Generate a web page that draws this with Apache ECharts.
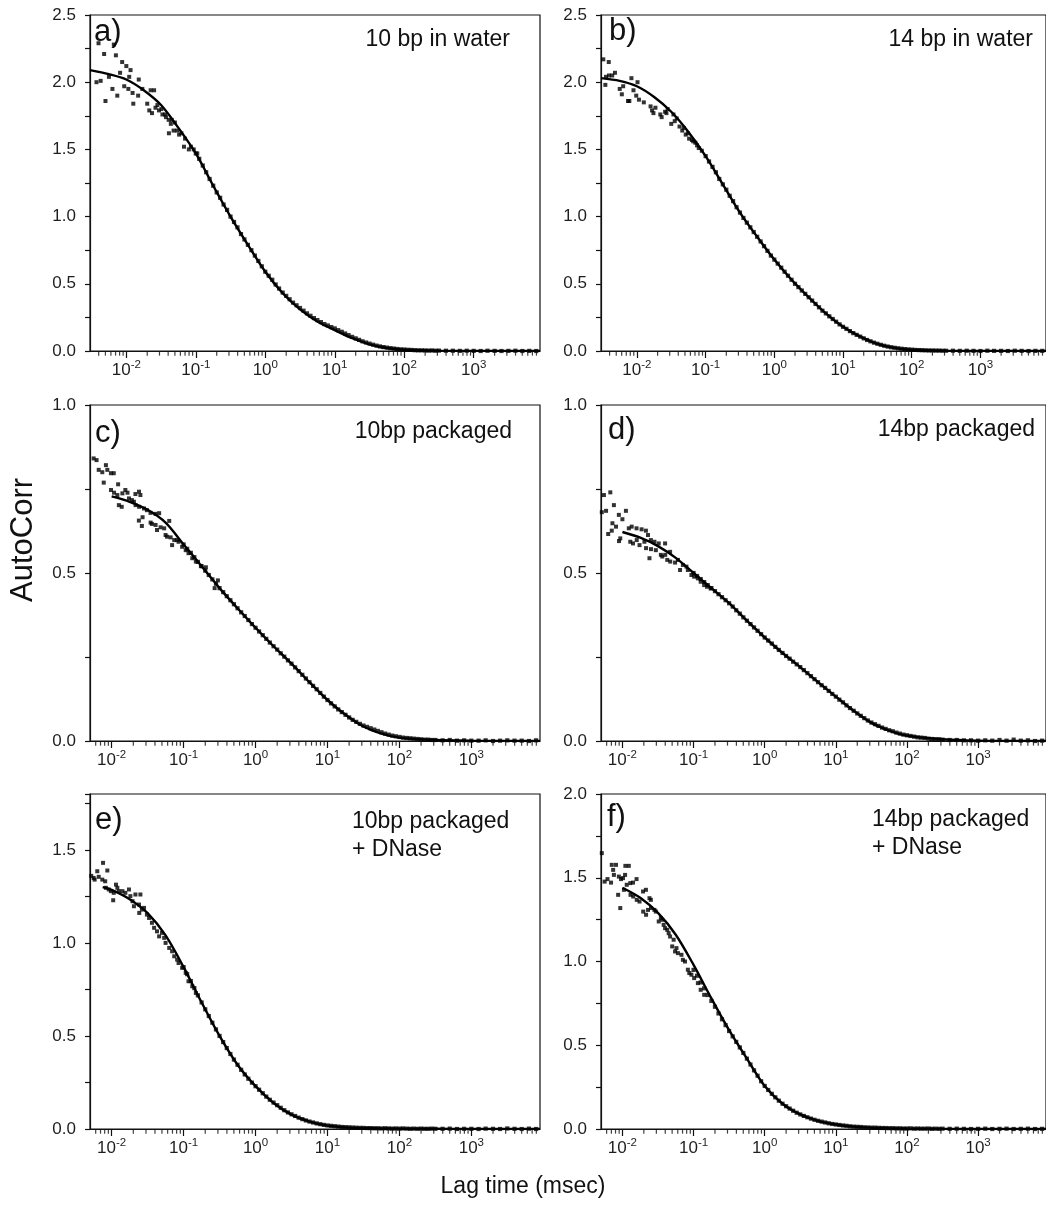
<!DOCTYPE html>
<html><head><meta charset="utf-8">
<script src="https://cdn.jsdelivr.net/npm/echarts@6/dist/echarts.min.js"></script>
<style>html,body{margin:0;padding:0;background:#fff}#c{width:1046px;height:1210px}</style>
</head><body><div id="c"></div>
<script>
// ---------------- DATA ----------------
// shared lag times (msec) of the dense part of every correlation curve
const lagT = [0.1, 0.112, 0.126, 0.141, 0.158, 0.178, 0.2, 0.224, 0.251, 0.282, 0.316, 0.355, 0.398, 0.447, 0.501, 0.562, 0.631, 0.708, 0.794, 0.891,
  1, 1.12, 1.26, 1.41, 1.58, 1.78, 2, 2.24, 2.51, 2.82, 3.16, 3.55, 3.98, 4.47, 5.01, 5.62, 6.31, 7.08, 7.94, 8.91,
  10, 11.2, 12.6, 14.1, 15.8, 17.8, 20, 22.4, 25.1, 28.2, 31.6, 35.5, 39.8, 44.7, 50.1, 56.2, 63.1, 70.8, 79.4, 89.1,
  100, 112, 126, 141, 158, 178, 200, 224, 251, 282, 316, 398, 501, 631, 794, 1000, 1260, 1580, 2000, 2510, 3160, 3980, 5010, 6310, 7940];

const denseA = [1.47, 1.43, 1.38, 1.33, 1.28, 1.23, 1.18, 1.14, 1.09, 1.05,
  1.00, 0.96, 0.92, 0.87, 0.83, 0.79, 0.75, 0.71, 0.67, 0.63,
  0.59, 0.56, 0.53, 0.495, 0.465, 0.435, 0.41, 0.385, 0.36, 0.34,
  0.32, 0.30, 0.28, 0.262, 0.245, 0.23, 0.215, 0.20, 0.19, 0.178,
  0.168, 0.155, 0.143, 0.13, 0.118, 0.105, 0.094, 0.083, 0.072, 0.063,
  0.055, 0.047, 0.04, 0.034, 0.029, 0.025, 0.021, 0.018, 0.015, 0.012,
  0.011, 0.009, 0.008, 0.006, 0.005, 0.005, 0.004, 0.003, 0.004, 0.002,
  0.003, 0.002, 0.002, 0.001, 0.002, 0.001, 0.000, 0.002, 0.001, 0.000, 0.001, 0.002, 0.000, 0.001, 0.000];
const denseB = [1.45, 1.41, 1.37, 1.33, 1.28, 1.24, 1.20, 1.155, 1.115, 1.07,
  1.03, 0.99, 0.955, 0.92, 0.885, 0.85, 0.815, 0.78, 0.745, 0.71,
  0.68, 0.65, 0.62, 0.59, 0.56, 0.53, 0.50, 0.475, 0.45, 0.425,
  0.40, 0.375, 0.35, 0.325, 0.30, 0.28, 0.258, 0.238, 0.218, 0.198,
  0.18, 0.165, 0.148, 0.133, 0.12, 0.107, 0.094, 0.082, 0.072, 0.062,
  0.054, 0.046, 0.039, 0.033, 0.028, 0.024, 0.02, 0.017, 0.014, 0.012,
  0.01, 0.008, 0.007, 0.006, 0.005, 0.004, 0.004, 0.003, 0.003, 0.002,
  0.002, 0.002, 0.001, 0.002, 0.001, 0.000, 0.002, 0.001, 0.001, 0.000, 0.002, 0.001, 0.000, 0.001, 0.001];
const denseC = [0.585, 0.572, 0.56, 0.547, 0.533, 0.52, 0.507, 0.494, 0.481, 0.468,
  0.455, 0.443, 0.431, 0.419, 0.407, 0.395, 0.383, 0.372, 0.36, 0.348,
  0.337, 0.326, 0.315, 0.304, 0.293, 0.282, 0.272, 0.261, 0.251, 0.24,
  0.23, 0.219, 0.208, 0.197, 0.186, 0.175, 0.164, 0.154, 0.143, 0.132,
  0.122, 0.112, 0.103, 0.094, 0.086, 0.078, 0.07, 0.063, 0.057, 0.051,
  0.046, 0.042, 0.038, 0.034, 0.03, 0.026, 0.022, 0.019, 0.016, 0.014,
  0.012, 0.01, 0.009, 0.008, 0.007, 0.006, 0.005, 0.004, 0.004, 0.003,
  0.003, 0.002, 0.003, 0.001, 0.002, 0.001, 0.001, 0.002, 0.000, 0.001, 0.002, 0.001, 0.001, 0.000, 0.002];
const denseD = [0.50, 0.491, 0.482, 0.473, 0.464, 0.455, 0.446, 0.437, 0.428, 0.419,
  0.41, 0.40, 0.389, 0.379, 0.368, 0.358, 0.348, 0.338, 0.328, 0.318,
  0.308, 0.299, 0.29, 0.28, 0.271, 0.262, 0.253, 0.245, 0.236, 0.228,
  0.22, 0.211, 0.202, 0.193, 0.184, 0.175, 0.166, 0.158, 0.149, 0.14,
  0.132, 0.123, 0.115, 0.106, 0.098, 0.09, 0.082, 0.075, 0.068, 0.061,
  0.055, 0.05, 0.045, 0.04, 0.036, 0.032, 0.029, 0.025, 0.022, 0.019,
  0.017, 0.015, 0.013, 0.011, 0.01, 0.009, 0.007, 0.006, 0.005, 0.005,
  0.004, 0.003, 0.003, 0.002, 0.002, 0.001, 0.002, 0.001, 0.003, 0.001, 0.004, 0.001, 0.002, 0.000, 0.001];
const denseE = [0.87, 0.832, 0.795, 0.757, 0.718, 0.68, 0.643, 0.607, 0.571, 0.535,
  0.50, 0.467, 0.435, 0.403, 0.373, 0.345, 0.318, 0.293, 0.27, 0.249,
  0.23, 0.211, 0.192, 0.174, 0.157, 0.142, 0.128, 0.114, 0.101, 0.089,
  0.079, 0.07, 0.061, 0.053, 0.046, 0.04, 0.035, 0.03, 0.026, 0.022,
  0.019, 0.017, 0.015, 0.013, 0.011, 0.01, 0.009, 0.008, 0.007, 0.006,
  0.006, 0.005, 0.005, 0.004, 0.004, 0.003, 0.004, 0.003, 0.002, 0.003,
  0.002, 0.003, 0.002, 0.001, 0.002, 0.001, 0.002, 0.001, 0.001, 0.002,
  0.001, 0.001, 0.002, 0.000, 0.001, 0.001, 0.000, 0.002, 0.001, 0.000, 0.003, 0.001, 0.000, 0.002, 0.000];
const denseF = [0.95, 0.915, 0.875, 0.84, 0.80, 0.765, 0.73, 0.69, 0.655, 0.62,
  0.585, 0.553, 0.52, 0.487, 0.454, 0.42, 0.385, 0.35, 0.318, 0.285,
  0.257, 0.233, 0.21, 0.189, 0.169, 0.151, 0.136, 0.122, 0.109, 0.097,
  0.087, 0.078, 0.07, 0.062, 0.055, 0.049, 0.044, 0.039, 0.034, 0.03,
  0.027, 0.024, 0.021, 0.019, 0.016, 0.014, 0.013, 0.012, 0.01, 0.009,
  0.008, 0.008, 0.007, 0.006, 0.006, 0.005, 0.005, 0.004, 0.004, 0.003,
  0.003, 0.004, 0.002, 0.003, 0.002, 0.002, 0.003, 0.001, 0.002, 0.001,
  0.002, 0.001, 0.002, 0.001, 0.000, 0.001, 0.002, 0.000, 0.001, 0.002, 0.000, 0.001, 0.002, 0.000, 0.001];

// noisy short-lag points of each panel (lag in msec, AutoCorr)
const noiseAx = [0.00398, 0.00661, 0.00479, 0.00708, 0.00871, 0.0100, 0.0115, 0.00813, 0.0110, 0.0151, 0.00372, 0.00427, 0.00562, 0.00631, 0.00933, 0.0107, 0.0123, 0.0170, 0.0224, 0.0251, 0.00501, 0.00741, 0.0126, 0.0148, 0.0200, 0.0214, 0.0234, 0.0263, 0.0295, 0.0331, 0.0372, 0.0407, 0.0437, 0.0410, 0.0479, 0.0537, 0.0575, 0.0676, 0.0794, 0.0933, 0.105, 0.028, 0.032, 0.036, 0.045, 0.05, 0.062, 0.07, 0.085];
const noiseAy = [2.29, 2.28, 2.21, 2.20, 2.15, 2.12, 2.09, 2.07, 2.04, 2.02, 2.00, 2.01, 2.04, 1.95, 1.97, 1.95, 1.92, 1.95, 1.94, 1.94, 1.86, 1.90, 1.84, 1.90, 1.84, 1.79, 1.77, 1.81, 1.79, 1.76, 1.74, 1.72, 1.69, 1.62, 1.64, 1.64, 1.61, 1.52, 1.50, 1.50, 1.47, 1.83, 1.80, 1.76, 1.72, 1.70, 1.62, 1.58, 1.52];
const noiseBx = [0.00324, 0.00389, 0.00355, 0.00392, 0.00437, 0.00479, 0.00347, 0.00562, 0.00631, 0.00603, 0.00741, 0.00776, 0.00832, 0.0102, 0.00891, 0.00977, 0.0107, 0.0126, 0.0158, 0.0166, 0.0174, 0.0186, 0.0219, 0.0229, 0.0257, 0.0269, 0.0316, 0.0355, 0.0417, 0.0457, 0.0513, 0.0575, 0.0631, 0.0708, 0.0794, 0.028, 0.034, 0.038, 0.048, 0.055, 0.066, 0.075, 0.088];
const noiseBy = [2.17, 2.15, 2.04, 2.05, 2.05, 2.07, 1.98, 1.95, 1.97, 1.91, 1.86, 1.86, 2.03, 2.00, 1.94, 1.90, 1.87, 1.85, 1.82, 1.79, 1.77, 1.81, 1.76, 1.74, 1.78, 1.77, 1.69, 1.71, 1.67, 1.64, 1.61, 1.58, 1.57, 1.55, 1.51, 1.80, 1.76, 1.73, 1.66, 1.62, 1.56, 1.53, 1.49];
const noiseCx = [0.00562, 0.00617, 0.00661, 0.00741, 0.00832, 0.00871, 0.00977, 0.0107, 0.00776, 0.0098, 0.0108, 0.0120, 0.0123, 0.0126, 0.0138, 0.0141, 0.0155, 0.0166, 0.0174, 0.0191, 0.0204, 0.0214, 0.0240, 0.0251, 0.0215, 0.0241, 0.0282, 0.0309, 0.0347, 0.0407, 0.0457, 0.0239, 0.0269, 0.0263, 0.0348, 0.0363, 0.0408, 0.0427, 0.0479, 0.0537, 0.0631, 0.0562, 0.0589, 0.0661, 0.0741, 0.0692, 0.0813, 0.0851, 0.0955, 0.107, 0.117, 0.132, 0.148, 0.174, 0.204, 0.27, 0.30];
const noiseCy = [0.841, 0.836, 0.807, 0.80, 0.821, 0.807, 0.797, 0.797, 0.769, 0.747, 0.739, 0.732, 0.764, 0.702, 0.697, 0.737, 0.747, 0.739, 0.722, 0.717, 0.712, 0.735, 0.742, 0.732, 0.702, 0.697, 0.692, 0.687, 0.679, 0.676, 0.678, 0.656, 0.666, 0.640, 0.650, 0.646, 0.643, 0.628, 0.636, 0.633, 0.655, 0.613, 0.608, 0.606, 0.598, 0.583, 0.598, 0.593, 0.578, 0.568, 0.559, 0.544, 0.534, 0.521, 0.517, 0.455, 0.478];
const noiseDx = [0.00550, 0.00676, 0.00513, 0.00589, 0.00759, 0.00724, 0.00813, 0.00891, 0.0100, 0.0112, 0.00631, 0.00708, 0.00933, 0.00895, 0.0123, 0.0135, 0.0158, 0.0186, 0.0214, 0.0229, 0.0129, 0.0141, 0.0159, 0.0174, 0.0204, 0.0251, 0.0282, 0.0324, 0.0398, 0.0240, 0.0215, 0.0252, 0.0295, 0.0347, 0.0363, 0.0400, 0.0468, 0.0427, 0.0470, 0.0550, 0.0603, 0.0646, 0.0708, 0.0794, 0.0832, 0.0933, 0.102, 0.115, 0.126, 0.141, 0.155, 0.174];
const noiseDy = [0.732, 0.740, 0.681, 0.685, 0.702, 0.648, 0.638, 0.673, 0.660, 0.685, 0.616, 0.626, 0.603, 0.595, 0.633, 0.638, 0.633, 0.630, 0.626, 0.613, 0.593, 0.588, 0.598, 0.583, 0.593, 0.598, 0.593, 0.588, 0.588, 0.544, 0.574, 0.571, 0.568, 0.554, 0.549, 0.554, 0.563, 0.539, 0.534, 0.531, 0.539, 0.509, 0.524, 0.519, 0.509, 0.494, 0.489, 0.484, 0.474, 0.464, 0.459, 0.454];
const noiseEx = [0.00562, 0.00631, 0.00759, 0.00871, 0.00661, 0.00741, 0.00813, 0.00832, 0.00912, 0.00977, 0.0105, 0.0107, 0.0115, 0.0120, 0.0126, 0.0141, 0.0155, 0.0174, 0.0182, 0.0195, 0.0214, 0.0204, 0.0240, 0.0251, 0.0263, 0.0242, 0.0282, 0.0309, 0.0331, 0.0363, 0.0389, 0.0427, 0.0457, 0.0501, 0.0537, 0.0562, 0.0631, 0.0692, 0.0741, 0.0813, 0.0851, 0.0955, 0.107, 0.117, 0.132, 0.148, 0.0052, 0.0058];
const noiseEy = [1.349, 1.385, 1.43, 1.389, 1.355, 1.34, 1.331, 1.296, 1.287, 1.278, 1.229, 1.269, 1.313, 1.296, 1.278, 1.278, 1.269, 1.287, 1.251, 1.224, 1.26, 1.197, 1.206, 1.26, 1.179, 1.161, 1.188, 1.152, 1.134, 1.108, 1.081, 1.062, 1.035, 1.054, 1.027, 1.0, 0.973, 0.955, 0.928, 0.91, 0.892, 0.866, 0.839, 0.794, 0.767, 0.731, 1.36, 1.34];
const noiseFx = [0.00513, 0.00708, 0.00813, 0.0110, 0.0123, 0.00741, 0.00759, 0.00891, 0.0109, 0.00562, 0.00617, 0.00692, 0.00955, 0.0102, 0.0115, 0.0129, 0.0141, 0.0158, 0.00871, 0.00933, 0.0105, 0.0130, 0.0142, 0.0159, 0.0174, 0.0195, 0.0214, 0.0240, 0.0251, 0.0196, 0.0215, 0.0229, 0.0252, 0.0282, 0.0295, 0.0324, 0.0347, 0.0363, 0.0380, 0.0398, 0.0427, 0.0447, 0.0468, 0.0501, 0.0525, 0.0550, 0.0575, 0.0603, 0.0676, 0.0708, 0.0759, 0.0832, 0.0871, 0.0933, 0.102, 0.115, 0.126, 0.141];
const noiseFy = [1.647, 1.577, 1.577, 1.571, 1.571, 1.547, 1.517, 1.507, 1.517, 1.477, 1.492, 1.471, 1.492, 1.498, 1.458, 1.468, 1.471, 1.492, 1.398, 1.319, 1.428, 1.398, 1.388, 1.368, 1.358, 1.418, 1.428, 1.378, 1.368, 1.298, 1.279, 1.308, 1.319, 1.308, 1.298, 1.239, 1.259, 1.249, 1.219, 1.199, 1.189, 1.169, 1.149, 1.09, 1.13, 1.06, 1.08, 1.05, 1.04, 1.01, 1.0, 0.951, 0.931, 0.921, 0.901, 0.871, 0.831, 0.801];

// fitted curves
const fitLagAB = [0.003, 0.0056, 0.01, 0.0178, 0.0316, 0.0562, 0.1, 0.178, 0.316, 0.562, 1, 1.78, 3.16, 5.62, 10, 17.8, 31.6, 56.2, 100, 316, 1000, 9000];
const fitA = [2.09, 2.06, 2.02, 1.94, 1.83, 1.66, 1.47, 1.23, 1.00, 0.79, 0.59, 0.43, 0.31, 0.22, 0.155, 0.095, 0.05, 0.022, 0.009, 0.002, 0.001, 0];
const fitB = [2.03, 2.01, 1.97, 1.89, 1.78, 1.63, 1.45, 1.24, 1.03, 0.85, 0.68, 0.53, 0.40, 0.28, 0.18, 0.107, 0.053, 0.023, 0.009, 0.002, 0.001, 0];
const fitLagCDF = [0.01, 0.0178, 0.0316, 0.0562, 0.1, 0.178, 0.316, 0.562, 1, 1.78, 3.16, 5.62, 10, 17.8, 31.6, 56.2, 100, 316, 1000, 9000];
const fitC = [0.728, 0.712, 0.688, 0.650, 0.585, 0.52, 0.455, 0.395, 0.337, 0.282, 0.23, 0.175, 0.122, 0.078, 0.043, 0.022, 0.01, 0.003, 0.001, 0];
const fitD = [0.622, 0.605, 0.58, 0.545, 0.50, 0.455, 0.41, 0.358, 0.308, 0.262, 0.22, 0.175, 0.132, 0.09, 0.054, 0.031, 0.016, 0.005, 0.001, 0];
const fitLagE = [0.0075, 0.01, 0.0178, 0.0316, 0.0562, 0.1, 0.178, 0.316, 0.562, 1, 1.78, 3.16, 5.62, 10, 17.8, 31.6, 56.2, 100, 316, 1000, 9000];
const fitE = [1.30, 1.285, 1.235, 1.16, 1.04, 0.87, 0.68, 0.50, 0.345, 0.23, 0.14, 0.077, 0.04, 0.018, 0.009, 0.005, 0.003, 0.002, 0.001, 0, 0];
const fitF = [1.44, 1.38, 1.29, 1.16, 0.98, 0.78, 0.59, 0.42, 0.257, 0.151, 0.087, 0.049, 0.027, 0.014, 0.008, 0.005, 0.003, 0.001, 0, 0];

// minor tick positions of the log axes (2..9 x 10^n)
const minorTickValues = [0.002, 0.003, 0.004, 0.005, 0.006, 0.007, 0.008, 0.009,
  0.02, 0.03, 0.04, 0.05, 0.06, 0.07, 0.08, 0.09, 0.2, 0.3, 0.4, 0.5, 0.6, 0.7, 0.8, 0.9,
  2, 3, 4, 5, 6, 7, 8, 9, 20, 30, 40, 50, 60, 70, 80, 90, 200, 300, 400, 500, 600, 700, 800, 900,
  2000, 3000, 4000, 5000, 6000, 7000, 8000, 9000];

const panelTitles = [['10 bp in water'], ['14 bp in water'], ['10bp packaged'], ['14bp packaged'], ['10bp packaged', '+ DNase'], ['14bp packaged', '+ DNase']];
const panelLetters = ['a)', 'b)', 'c)', 'd)', 'e)', 'f)'];
const yMaxes = [2.5, 2.5, 1.0, 1.0, 1.8, 2.0];
const xMins = [0.003, 0.003, 0.005, 0.005, 0.005, 0.005];
const xMax = 9000;
const yAxisTitle = 'AutoCorr';
const xAxisTitle = 'Lag time (msec)';

// ---------------- LAYOUT / STYLE ----------------
const FONT = '"Liberation Sans", Arial, Helvetica, sans-serif';
const INK = '#111111';
const TXT = '#1e1e1e';
const grids = [
  {left: 90, top: 15, width: 450, height: 336},
  {left: 601, top: 15, width: 462, height: 336},
  {left: 90, top: 405, width: 450, height: 336},
  {left: 601, top: 405, width: 462, height: 336},
  {left: 90, top: 794, width: 450, height: 335},
  {left: 601, top: 794, width: 462, height: 335}
];
const letterPos = [[94, 32], [609, 31], [95, 433], [608, 430], [95, 820], [607, 817]];
const titlePos = [[510, 39, 'right'], [1033, 39, 'right'], [512, 431, 'right'], [1035, 429, 'right'], [352, 821, 'left'], [872, 819, 'left']];

const noise = [[noiseAx, noiseAy], [noiseBx, noiseBy], [noiseCx, noiseCy], [noiseDx, noiseDy], [noiseEx, noiseEy], [noiseFx, noiseFy]];
const dense = [denseA, denseB, denseC, denseD, denseE, denseF];
const fits = [[fitLagAB, fitA], [fitLagAB, fitB], [fitLagCDF, fitC], [fitLagCDF, fitD], [fitLagE, fitE], [fitLagCDF, fitF]];

const zip = (xs, ys) => xs.map((x, i) => [x, ys[i]]);

const chart = echarts.init(document.getElementById('c'), null, {renderer: 'canvas'});

const series = [];
for (let i = 0; i < 6; i++) {
  series.push({
    type: 'scatter', xAxisIndex: i, yAxisIndex: i, silent: true,
    symbol: 'rect', symbolSize: 4, itemStyle: {color: '#000'},
    data: zip(noise[i][0], noise[i][1])
  });
  series.push({
    type: 'scatter', xAxisIndex: i, yAxisIndex: i, silent: true,
    symbol: 'rect', symbolSize: 4.2, itemStyle: {color: '#000'},
    data: zip(lagT, dense[i])
  });
  series.push({
    type: 'line', xAxisIndex: i, yAxisIndex: i, silent: true,
    symbol: 'none', showSymbol: false, smooth: 0.3, z: 3,
    lineStyle: {color: '#000', width: 2.4},
    data: zip(fits[i][0], fits[i][1])
  });
  series.push({
    type: 'scatter', xAxisIndex: i, yAxisIndex: i, silent: true, clip: false,
    symbol: 'rect', symbolSize: [1.2, 4.5], symbolOffset: [0, 2.4],
    itemStyle: {color: INK}, z: 4,
    data: minorTickValues.filter(v => v > xMins[i] * 1.0001 && v < xMax * 0.9999).map(v => [v, 0])
  });
}

const graphics = [];
for (let i = 0; i < 6; i++) {
  graphics.push({type: 'text', x: letterPos[i][0], y: letterPos[i][1], silent: true,
    style: {text: panelLetters[i], font: '31px ' + FONT, fill: '#111', textAlign: 'left', textVerticalAlign: 'middle'}});
  const t = titlePos[i];
  graphics.push({type: 'text', x: t[0], y: t[1] - 13, silent: true,
    style: {text: panelTitles[i].join('\n'), font: '23px ' + FONT, lineHeight: 28, fill: '#111', textAlign: t[2], textVerticalAlign: 'top'}});
}
graphics.push({type: 'text', x: 23, y: 540, rotation: Math.PI / 2, silent: true,
  style: {text: yAxisTitle, font: '31px ' + FONT, fill: '#111', textAlign: 'center', textVerticalAlign: 'middle'}});
graphics.push({type: 'text', x: 523, y: 1187, silent: true,
  style: {text: xAxisTitle, font: '23px ' + FONT, fill: '#111', textAlign: 'center', textVerticalAlign: 'middle'}});

const option = {
  animation: false,
  backgroundColor: '#ffffff',
  grid: grids.map(g => Object.assign({show: true, borderColor: INK, borderWidth: 1.2, backgroundColor: 'transparent', containLabel: false}, g)),
  xAxis: grids.map((g, i) => ({
    type: 'log', logBase: 10, gridIndex: i, min: xMins[i], max: xMax, position: 'bottom',
    axisLine: {show: true, onZero: false, lineStyle: {color: INK, width: 1.2}},
    axisTick: {show: true, inside: false, length: 7, lineStyle: {color: INK, width: 1.2}},
    splitLine: {show: false}, minorTick: {show: false}, minorSplitLine: {show: false},
    axisLabel: {
      show: true, margin: 10, showMinLabel: false, showMaxLabel: false,
      formatter: v => {
        const e = Math.log10(v), r = Math.round(e);
        if (Math.abs(e - r) > 1e-6) return '';
        return '{b|10}{s|' + r + '}';
      },
      rich: {
        b: {fontSize: 17, fontFamily: FONT, color: TXT, verticalAlign: 'bottom', lineHeight: 18},
        s: {fontSize: 11.5, fontFamily: FONT, color: TXT, verticalAlign: 'bottom', lineHeight: 12, padding: [0, 0, 8, 0]}
      }
    }
  })),
  yAxis: grids.map((g, i) => ({
    type: 'value', gridIndex: i, min: 0, max: yMaxes[i], interval: 0.25,
    axisLine: {show: true, onZero: false, lineStyle: {color: INK, width: 1.2}},
    axisTick: {show: true, inside: false, length: 5, lineStyle: {color: INK, width: 1.2}},
    splitLine: {show: false},
    axisLabel: {
      margin: 14, color: TXT, fontSize: 17, fontFamily: FONT,
      formatter: v => (Math.abs(v / 0.5 - Math.round(v / 0.5)) < 1e-6 ? v.toFixed(1) : '')
    }
  })),
  series: series,
  graphic: graphics
};
chart.setOption(option);
</script>
</body></html>
